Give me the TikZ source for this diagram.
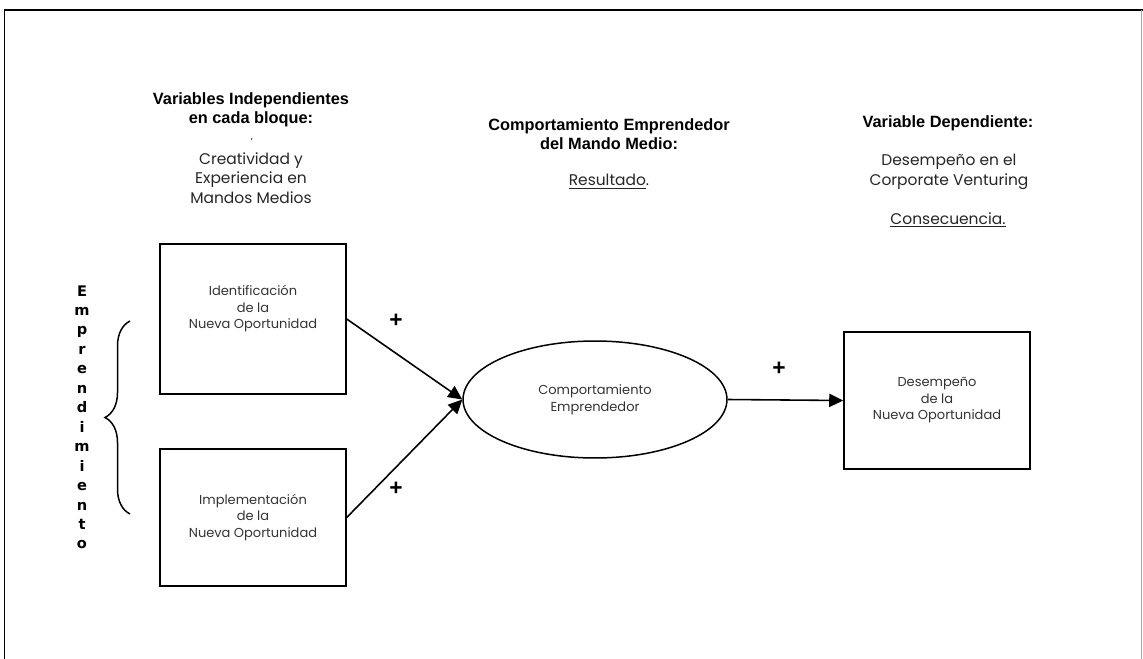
\documentclass[tikz,border=0pt]{standalone}
\usepackage{fontspec}
\setmainfont{Poppins}
\newfontfamily\headfont{Liberation Sans}
\newfontfamily\letterfont{DejaVu Sans}
\usetikzlibrary{arrows.meta,shapes.geometric,decorations.pathreplacing}

\begin{document}
\begin{tikzpicture}[x=0.02cm,y=-0.02cm,
  blockbox/.style={draw,line width=0.85pt,minimum width=3.72cm,inner sep=0pt},
  bodytext/.style={align=center,font=\fontsize{7.4}{9.4}\selectfont,text=black!80},
  subtext/.style={align=center,font=\fontsize{8.8}{11}\selectfont,text=black!85},
  headtext/.style={align=center,font=\headfont\bfseries\fontsize{9.3}{11}\selectfont},
  plussign/.style={font=\headfont\bfseries\fontsize{13}{13}\selectfont},
  lettertext/.style={font=\letterfont\bfseries\fontsize{8.3}{8.3}\selectfont,anchor=base,inner sep=0pt},
  link/.style={line width=0.9pt,-{Triangle[length=8pt,width=7.5pt]}}]
\useasboundingbox (0,0) rectangle (1143,659);

% frame
\draw[line width=1.1pt] (4.5,659) -- (4.5,10) -- (1143,10);
\draw[gray!70,line width=0.4pt] (1141,10) -- (1141,659);

% headings
\node[headtext] (indhead) at (251,110) {Variables Independientes\\en cada bloque:};
\node[font=\fontsize{5}{5}\selectfont] (tick) at (252,140) {,};
\node[subtext] (indsub) at (251,178) {Creatividad y\\Experiencia en\\Mandos Medios};

\node[headtext] (comphead) at (609,134) {Comportamiento Emprendedor\\del Mando Medio:};
\node[subtext] (compsub) at (609,182) {\underline{Resultado}.};

\node[headtext] (dephead) at (948,123) {Variable Dependiente:};
\node[subtext] (depsub) at (949,172) {Desempeño en el\\Corporate Venturing};
\node[subtext] (depcons) at (948,220) {\underline{Consecuencia.}};

% blocks
\node[blockbox,minimum height=3cm] (idbox) at (253,319) {};
\node[bodytext] (idtext) at (253,309) {Identificación\\de la\\Nueva Oportunidad};
\node[blockbox,minimum height=2.74cm,bodytext] (impbox) at (253,517.5) {Implementación\\de la\\Nueva Oportunidad};
\node[ellipse,draw,line width=0.85pt,minimum width=5.28cm,minimum height=2.34cm,inner sep=0pt,bodytext] (compell) at (595,399.5) {Comportamiento\\Emprendedor};
\node[blockbox,minimum height=2.74cm,bodytext] (desbox) at (937,400.5) {Desempeño\\de la\\Nueva Oportunidad};

% arrows
\draw[link] (idbox.east) -- (compell.west);
\draw[link] (impbox.east) -- (compell.west);
\draw[link] (compell.east) -- (desbox.west);

\node[plussign] (plusa) at (396,321) {+};
\node[plussign] (plusb) at (396,489) {+};
\node[plussign] (plusc) at (779,369) {+};

% brace and vertical word
\coordinate (bracebot) at (130,514);
\coordinate (bracetop) at (130,321);
\draw[line width=0.85pt,decorate,decoration={brace,amplitude=0.5cm}] (bracebot) -- (bracetop);
\foreach \ch [count=\i] in {E,m,p,r,e,n,d,i,m,i,e,n,t,o}
  \node[lettertext] (letter\i) at (82,{296+19.46*(\i-1)}) {\ch};
\end{tikzpicture}
\end{document}
